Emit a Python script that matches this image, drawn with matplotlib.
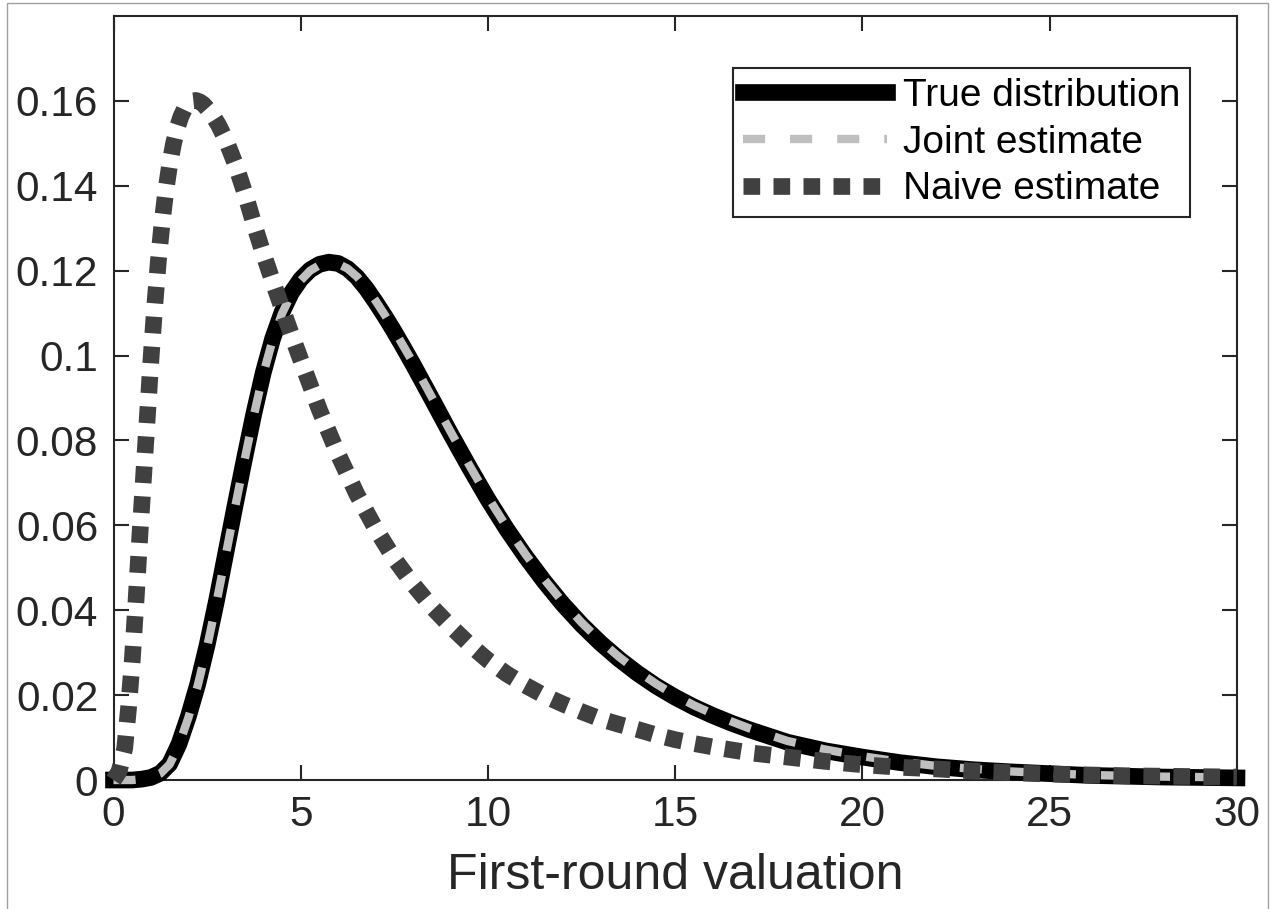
import matplotlib
matplotlib.use("Agg")
import matplotlib.pyplot as plt
from matplotlib.patches import Rectangle

plt.rcParams['font.family'] = ['Liberation Sans', 'DejaVu Sans']

# density curves, values read at the listed valuations
x_true = [0, 0.5, 0.75, 1.0, 1.25, 1.5, 1.75, 2.0, 2.25, 2.5, 2.75, 3.0, 3.25, 3.5,
          3.75, 4.0, 4.25, 4.5, 4.75, 5.0, 5.25, 5.5, 5.75, 6.0, 6.25, 6.5, 6.75, 7.0,
          7.25, 7.5, 7.75, 8.0, 8.5, 9.0, 9.5, 10.0, 10.5, 11.0, 11.5, 12.0, 12.5,
          13.0, 13.5, 14.0, 14.5, 15.0, 15.5, 16.0, 16.5, 17.0, 18.0, 19.0, 20.0,
          21.0, 22.0, 23.0, 24.0, 25.0, 26.0, 27.0, 28.0, 29.0, 30.0]
true_pdf = [0, 0, 0.0002, 0.0006, 0.0016, 0.0038, 0.0085, 0.0150, 0.0226, 0.0318,
            0.0422, 0.0535, 0.0648, 0.0758, 0.0864, 0.0960, 0.1040, 0.1102, 0.1148,
            0.1180, 0.1202, 0.1215, 0.1220, 0.1217, 0.1205, 0.1185, 0.1158, 0.1126,
            0.1092, 0.1056, 0.1018, 0.0979, 0.0898, 0.0816, 0.0737, 0.0661, 0.0591,
            0.0527, 0.0468, 0.0414, 0.0366, 0.0323, 0.0285, 0.0251, 0.0221, 0.0195,
            0.0172, 0.0152, 0.0134, 0.0118, 0.0089, 0.0069, 0.0054, 0.0041, 0.0031,
            0.0024, 0.0019, 0.0015, 0.0011, 0.0009, 0.0007, 0.0006, 0.0005]
joint_pdf = [0, 0, 0.0002, 0.0006, 0.0015, 0.0037, 0.0083, 0.0147, 0.0223, 0.0314,
             0.0418, 0.0531, 0.0644, 0.0754, 0.0860, 0.0957, 0.1037, 0.1099, 0.1145,
             0.1177, 0.1200, 0.1213, 0.1218, 0.1216, 0.1205, 0.1186, 0.1160, 0.1129,
             0.1095, 0.1059, 0.1021, 0.0983, 0.0902, 0.0821, 0.0742, 0.0666, 0.0596,
             0.0532, 0.0473, 0.0419, 0.0371, 0.0328, 0.0290, 0.0256, 0.0226, 0.0199,
             0.0176, 0.0156, 0.0138, 0.0121, 0.0092, 0.0072, 0.0056, 0.0043, 0.0033,
             0.0026, 0.0020, 0.0016, 0.0012, 0.0010, 0.0008, 0.0007, 0.0006]

x_naive = [0, 0.15, 0.3, 0.4, 0.5, 0.6, 0.7, 0.8, 0.9, 1.0, 1.1, 1.2, 1.3, 1.4, 1.5,
           1.6, 1.7, 1.8, 1.9, 2.0, 2.1, 2.2, 2.3, 2.4, 2.6, 2.8, 3.0, 3.25, 3.5, 3.75,
           4.0, 4.25, 4.5, 4.75, 5.0, 5.5, 6.0, 6.5, 7.0, 7.5, 8.0, 8.5, 9.0, 9.5,
           10.0, 10.5, 11.0, 11.5, 12.0, 12.5, 13.0, 13.5, 14.0, 14.5, 15.0, 15.5,
           16.0, 16.5, 17.0, 18.0, 19.0, 20.0, 21.0, 22.0, 23.0, 24.0, 25.0, 26.0,
           27.0, 28.0, 29.0, 30.0]
naive_pdf = [0, 0.002, 0.0075, 0.0168, 0.028, 0.042, 0.057, 0.071, 0.085, 0.099,
             0.1115, 0.1225, 0.1315, 0.1390, 0.1450, 0.1498, 0.1536, 0.1563, 0.1582,
             0.1594, 0.1600, 0.1601, 0.1598, 0.1592, 0.1572, 0.1544, 0.1508, 0.1452,
             0.1385, 0.1310, 0.1240, 0.1175, 0.1112, 0.1050, 0.0990, 0.0872, 0.0767,
             0.0673, 0.0592, 0.0521, 0.0461, 0.0408, 0.0362, 0.0320, 0.0282, 0.0250,
             0.0223, 0.0199, 0.0179, 0.0161, 0.0144, 0.0131, 0.0119, 0.0106, 0.0095,
             0.0086, 0.0078, 0.0071, 0.0064, 0.0054, 0.0044, 0.0036, 0.0030, 0.0026,
             0.0021, 0.0017, 0.0014, 0.0012, 0.0010, 0.0009, 0.0008, 0.0007]

x_ticks = [0, 5, 10, 15, 20, 25, 30]
y_ticks = [0, 0.02, 0.04, 0.06, 0.08, 0.1, 0.12, 0.14, 0.16]
y_tick_labels = ['0', '0.02', '0.04', '0.06', '0.08', '0.1', '0.12', '0.14', '0.16']

axis_col = '#262626'

fig = plt.figure(figsize=(12.71, 9.09), dpi=100)
ax = fig.add_axes([0.0893, 0.1419, 0.8839, 0.8405])

ax.plot(x_true, true_pdf, color='black', lw=12, solid_capstyle='projecting',
        solid_joinstyle='round', clip_on=False, zorder=3, label='True distribution')
ax.plot(x_true, joint_pdf, color='#bfbfbf', lw=6, ls=(0, (2.65, 3.0)),
        dash_capstyle='butt', clip_on=False, zorder=4, label='Joint estimate')
ax.plot(x_naive, naive_pdf, color='#404040', lw=12, ls=(0, (1.0, 0.8)),
        dash_capstyle='butt', clip_on=False, zorder=5, label='Naive estimate')

ax.set_xlim(0, 30)
ax.set_ylim(0, 0.18)
ax.set_xticks(x_ticks)
ax.set_yticks(y_ticks)
ax.set_yticklabels(y_tick_labels)
ax.tick_params(direction='in', length=11, width=1.5, colors=axis_col,
               labelsize=30.5, top=True, right=True)
ax.tick_params(axis='y', pad=11)
ax.tick_params(axis='x', pad=11)
for s in ax.spines.values():
    s.set_linewidth(1.5)
    s.set_color(axis_col)

ax.set_xlabel('First-round valuation', fontsize=36, color=axis_col, labelpad=13)

leg = ax.legend(loc='upper right', bbox_to_anchor=(0.958, 0.932), fontsize=28,
                handlelength=3.7, handletextpad=0.4, borderpad=0.25,
                labelspacing=0.28, borderaxespad=0, fancybox=False, framealpha=1)
leg.get_frame().set_edgecolor(axis_col)
leg.get_frame().set_linewidth(1.5)

# thin frame round the whole figure
fig.patches.append(Rectangle((7 / 1271, -0.01), 1261 / 1271, 1 - 3 / 909 + 0.01,
                             transform=fig.transFigure, fill=False,
                             edgecolor='#a0a0a0', lw=1))

fig.savefig('out.png', dpi=100)
